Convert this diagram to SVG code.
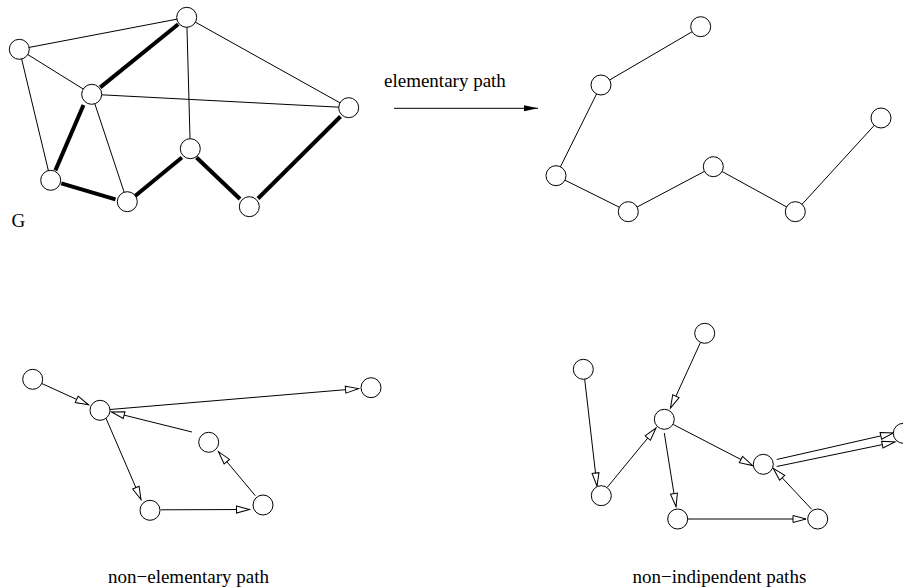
<svg xmlns="http://www.w3.org/2000/svg" width="903" height="587" viewBox="0 0 903 587">
  <style>
    .node { fill: #fff; stroke: #000; stroke-width: 1; }
    .edge { stroke: #000; stroke-width: 1; fill: none; }
    .bold { stroke: #000; stroke-width: 4; fill: none; }
    .arc { stroke: #000; stroke-width: 1; fill: none; marker-end: url(#open); }
    .label { font-family: "Liberation Serif", "Times New Roman", serif; font-size: 19px; fill: #000; }
  </style>
  <defs>
    <marker id="open" markerUnits="userSpaceOnUse" markerWidth="15" markerHeight="9" refX="13" refY="4" orient="auto" overflow="visible">
      <path d="M0,0.5 L13,4 L0,7.5 Z" fill="#fff" stroke="#000" stroke-width="1"/>
    </marker>
    <marker id="solid" markerUnits="userSpaceOnUse" markerWidth="15" markerHeight="8" refX="14" refY="3" orient="auto" overflow="visible">
      <path d="M0,0 L14,3 L0,6 Z" fill="#000"/>
    </marker>
  </defs>

  <rect width="903" height="587" fill="#fff"/>

  <!-- Graph G: thin edges, then the highlighted path -->
  <g id="connectors">
    <g id="g-edges">
      <line class="edge" x1="19.3" y1="49.3" x2="186.7" y2="17.3"/>
      <line class="edge" x1="19.3" y1="49.3" x2="91.7" y2="94.3"/>
      <line class="edge" x1="19.3" y1="49.3" x2="50.7" y2="180.3"/>
      <line class="edge" x1="186.7" y1="17.3" x2="190.3" y2="148.7"/>
      <line class="edge" x1="186.7" y1="17.3" x2="348.7" y2="107.7"/>
      <line class="edge" x1="91.7" y1="94.3" x2="348.7" y2="107.7"/>
      <line class="edge" x1="91.7" y1="94.3" x2="127.3" y2="201.7"/>
      <line class="bold" x1="178.2" y1="24.2" x2="100.2" y2="87.4"/>
      <line class="bold" x1="83.5" y1="105" x2="55.4" y2="170.4"/>
      <line class="bold" x1="61.3" y1="183.3" x2="115.5" y2="199.3"/>
      <line class="bold" x1="134.5" y1="196.5" x2="181.9" y2="157.5"/>
      <line class="bold" x1="196.5" y1="157.5" x2="240" y2="199"/>
      <line class="bold" x1="258" y1="198.5" x2="340.5" y2="116.5"/>
    </g>

    <!-- "elementary path" arrow -->
    <line class="edge" x1="394" y1="108.3" x2="538" y2="108.3" marker-end="url(#solid)"/>

    <!-- extracted elementary path -->
    <g id="path-edges">
      <polyline class="edge" points="700.7,26.7 601,85 556,175.7 628.3,211.7 713.3,166.7 795.3,211.7 881,118"/>
    </g>

    <!-- non-elementary path -->
    <g id="ne-edges">
      <line class="arc" x1="41.8" y1="383.5" x2="88.5" y2="404.8"/>
      <line class="arc" x1="110" y1="409.5" x2="358.5" y2="388.6"/>
      <line class="arc" x1="192" y1="432" x2="111.5" y2="412"/>
      <line class="arc" x1="106" y1="418.3" x2="141" y2="499.5"/>
      <line class="arc" x1="160.7" y1="509.8" x2="249.5" y2="509.5"/>
      <line class="arc" x1="255.3" y1="495.7" x2="218.5" y2="451.7"/>
    </g>

    <!-- non-indipendent paths -->
    <g id="ni-edges">
      <line class="arc" x1="584.7" y1="379.2" x2="597" y2="486"/>
      <line class="arc" x1="700.5" y1="342.4" x2="670.5" y2="408"/>
      <line class="arc" x1="607.5" y1="487" x2="656" y2="428"/>
      <line class="arc" x1="673.3" y1="424.5" x2="752.5" y2="465.5"/>
      <line class="arc" x1="664.3" y1="433" x2="676" y2="506.5"/>
      <line class="arc" x1="687.7" y1="519" x2="806" y2="519"/>
      <line class="arc" x1="811.7" y1="509.3" x2="773.3" y2="468.3"/>
      <line class="arc" x1="776.7" y1="459.5" x2="893.5" y2="433"/>
      <line class="arc" x1="776.7" y1="466.5" x2="895" y2="442"/>
    </g>
  </g>

  <!-- Graph G nodes -->
  <g id="g-a"><circle class="node" cx="19.3" cy="49.3" r="10"/></g>
  <g id="g-b"><circle class="node" cx="186.7" cy="17.3" r="10"/></g>
  <g id="g-c"><circle class="node" cx="91.7" cy="94.3" r="10"/></g>
  <g id="g-d"><circle class="node" cx="348.7" cy="107.7" r="10"/></g>
  <g id="g-e"><circle class="node" cx="190.3" cy="148.7" r="10"/></g>
  <g id="g-f"><circle class="node" cx="50.7" cy="180.3" r="10"/></g>
  <g id="g-h"><circle class="node" cx="127.3" cy="201.7" r="10"/></g>
  <g id="g-i"><circle class="node" cx="249.3" cy="206.7" r="10"/></g>

  <!-- elementary path nodes -->
  <g id="p-1"><circle class="node" cx="700.7" cy="26.7" r="10"/></g>
  <g id="p-2"><circle class="node" cx="601" cy="85" r="10"/></g>
  <g id="p-3"><circle class="node" cx="556" cy="175.7" r="10"/></g>
  <g id="p-4"><circle class="node" cx="628.3" cy="211.7" r="10"/></g>
  <g id="p-5"><circle class="node" cx="713.3" cy="166.7" r="10"/></g>
  <g id="p-6"><circle class="node" cx="795.3" cy="211.7" r="10"/></g>
  <g id="p-7"><circle class="node" cx="881" cy="118" r="10"/></g>

  <!-- non-elementary path nodes -->
  <g id="ne-1"><circle class="node" cx="32.7" cy="379.3" r="10"/></g>
  <g id="ne-2"><circle class="node" cx="100" cy="410.3" r="10"/></g>
  <g id="ne-3"><circle class="node" cx="371" cy="387.7" r="10"/></g>
  <g id="ne-4"><circle class="node" cx="208.7" cy="442.3" r="10"/></g>
  <g id="ne-5"><circle class="node" cx="150" cy="510.3" r="10"/></g>
  <g id="ne-6"><circle class="node" cx="263" cy="505" r="10"/></g>

  <!-- non-indipendent paths nodes -->
  <g id="ni-1"><circle class="node" cx="583.3" cy="369.3" r="10"/></g>
  <g id="ni-2"><circle class="node" cx="704.7" cy="333.3" r="10"/></g>
  <g id="ni-3"><circle class="node" cx="664.3" cy="419.3" r="10"/></g>
  <g id="ni-4"><circle class="node" cx="601.3" cy="495.7" r="10"/></g>
  <g id="ni-5"><circle class="node" cx="763.3" cy="464.3" r="10"/></g>
  <g id="ni-6"><circle class="node" cx="677.7" cy="519" r="10"/></g>
  <g id="ni-7"><circle class="node" cx="817.7" cy="519" r="10"/></g>
  <g id="ni-8"><circle class="node" cx="903.3" cy="433.3" r="10"/></g>

  <!-- labels -->
  <text class="label" x="11.5" y="227">G</text>
  <text class="label" x="384" y="87">elementary path</text>
  <text class="label" x="108" y="583">non−elementary path</text>
  <text class="label" x="632.5" y="583">non−indipendent paths</text>
</svg>
